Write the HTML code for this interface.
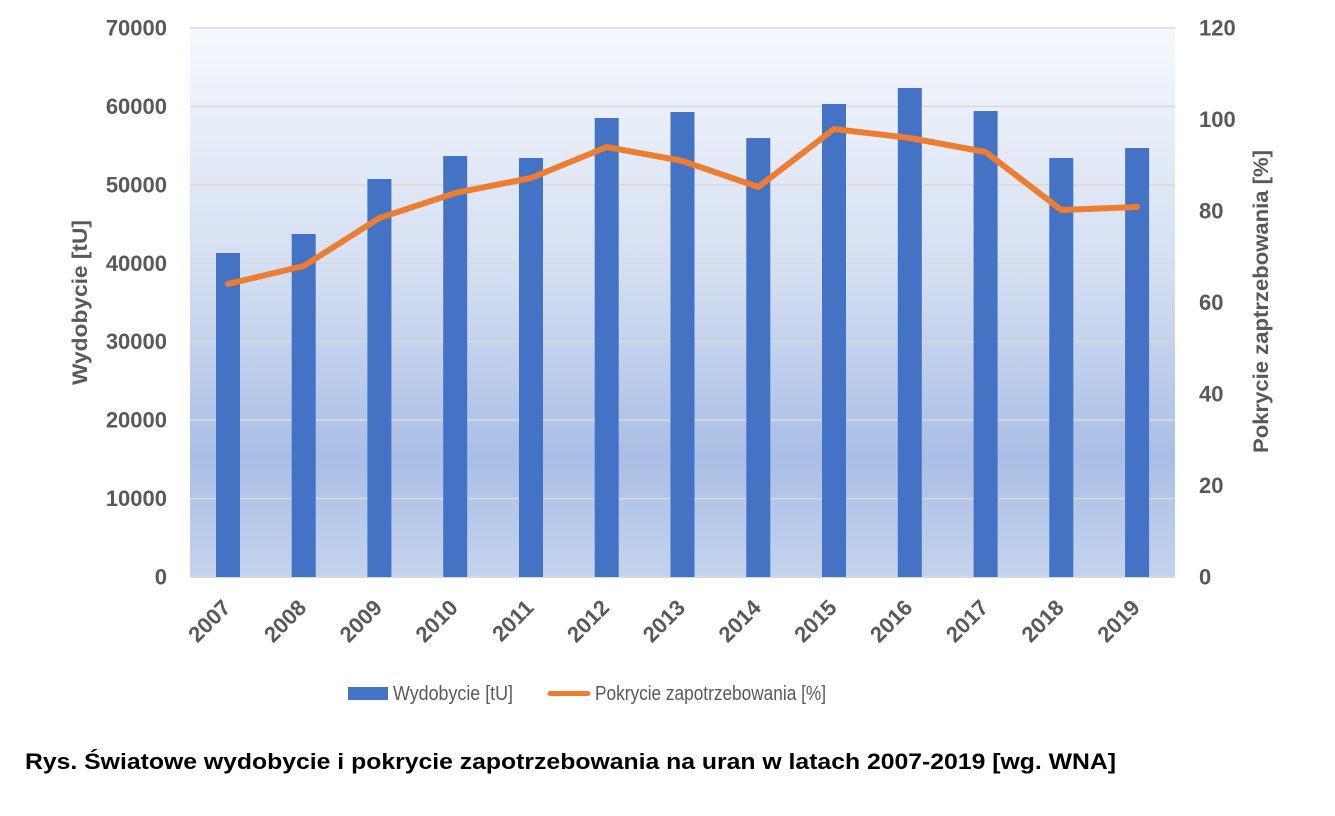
<!DOCTYPE html>
<html><head><meta charset="utf-8"><style>
html,body{margin:0;padding:0;background:#fff;}
svg{display:block;}
</style></head><body>
<svg width="1335" height="816" viewBox="0 0 1335 816" xmlns="http://www.w3.org/2000/svg" font-family="'Liberation Sans', sans-serif">
<defs>
<linearGradient id="bg" x1="0" y1="0" x2="0" y2="1">
<stop offset="0" stop-color="#F5F8FD"/>
<stop offset="0.45" stop-color="#D3DEF1"/>
<stop offset="0.78" stop-color="#AABEE5"/>
<stop offset="1" stop-color="#C4D3ED"/>
</linearGradient>
</defs>
<rect x="190" y="28" width="985" height="549" fill="url(#bg)"/>
<g stroke="#D9D9D9" stroke-width="1.6">
<line x1="190" y1="28" x2="1175" y2="28"/>
<line x1="190" y1="106.4" x2="1175" y2="106.4"/>
<line x1="190" y1="184.9" x2="1175" y2="184.9"/>
<line x1="190" y1="263.3" x2="1175" y2="263.3"/>
<line x1="190" y1="341.7" x2="1175" y2="341.7"/>
<line x1="190" y1="420.1" x2="1175" y2="420.1"/>
<line x1="190" y1="498.6" x2="1175" y2="498.6"/>
<line x1="190" y1="577" x2="1175" y2="577" stroke-width="2"/>
</g>
<g fill="#4472C4">
<rect x="216" y="253" width="24" height="324"/>
<rect x="291.7" y="234" width="24" height="343"/>
<rect x="367.4" y="179" width="24" height="398"/>
<rect x="443.2" y="156" width="24" height="421"/>
<rect x="519" y="158" width="24" height="419"/>
<rect x="594.7" y="118" width="24" height="459"/>
<rect x="670.5" y="112" width="24" height="465"/>
<rect x="746.3" y="138" width="24" height="439"/>
<rect x="822" y="104" width="24" height="473"/>
<rect x="897.8" y="88" width="24" height="489"/>
<rect x="973.6" y="111" width="24" height="466"/>
<rect x="1049.3" y="158" width="24" height="419"/>
<rect x="1125.1" y="148" width="24" height="429"/>
</g>
<polyline fill="none" stroke="#ED7D31" stroke-width="6" stroke-linecap="round" stroke-linejoin="round"
points="227.9,284 303.7,266 379.4,218 455.2,193 531,178 606.7,147 682.5,161 758.3,187 834,129 909.8,138 985.6,152 1061.3,210 1137.1,207"/>
<g fill="#595959" font-weight="bold" font-size="22" text-anchor="end">
<text x="167" y="35.5">70000</text>
<text x="167" y="114">60000</text>
<text x="167" y="192.4">50000</text>
<text x="167" y="270.8">40000</text>
<text x="167" y="349.2">30000</text>
<text x="167" y="427.6">20000</text>
<text x="167" y="506.1">10000</text>
<text x="167" y="584.5">0</text>
</g>
<g fill="#595959" font-weight="bold" font-size="22" text-anchor="start">
<text x="1199" y="35.5">120</text>
<text x="1199" y="127">100</text>
<text x="1199" y="218.5">80</text>
<text x="1199" y="310">60</text>
<text x="1199" y="401.5">40</text>
<text x="1199" y="493">20</text>
<text x="1199" y="584.5">0</text>
</g>
<g fill="#595959" font-weight="bold" font-size="22" text-anchor="end">
<text transform="translate(232,609) rotate(-45)">2007</text>
<text transform="translate(307.7,609) rotate(-45)">2008</text>
<text transform="translate(383.4,609) rotate(-45)">2009</text>
<text transform="translate(459.2,609) rotate(-45)">2010</text>
<text transform="translate(535,609) rotate(-45)">2011</text>
<text transform="translate(610.7,609) rotate(-45)">2012</text>
<text transform="translate(686.5,609) rotate(-45)">2013</text>
<text transform="translate(762.3,609) rotate(-45)">2014</text>
<text transform="translate(838,609) rotate(-45)">2015</text>
<text transform="translate(913.8,609) rotate(-45)">2016</text>
<text transform="translate(989.6,609) rotate(-45)">2017</text>
<text transform="translate(1065.3,609) rotate(-45)">2018</text>
<text transform="translate(1141.1,609) rotate(-45)">2019</text>
</g>
<text transform="translate(87,302.5) rotate(-90)" fill="#595959" font-weight="bold" font-size="21" text-anchor="middle" textLength="165" lengthAdjust="spacingAndGlyphs">Wydobycie [tU]</text>
<text transform="translate(1268,301.5) rotate(-90)" fill="#595959" font-weight="bold" font-size="21" text-anchor="middle" textLength="303" lengthAdjust="spacingAndGlyphs">Pokrycie zaptrzebowania [%]</text>
<rect x="348" y="687" width="40" height="13" fill="#4472C4"/>
<text x="393" y="700" fill="#595959" font-size="20" textLength="120" lengthAdjust="spacingAndGlyphs">Wydobycie [tU]</text>
<line x1="550" y1="693.5" x2="588" y2="693.5" stroke="#ED7D31" stroke-width="5" stroke-linecap="round"/>
<text x="595" y="700" fill="#595959" font-size="20" textLength="231" lengthAdjust="spacingAndGlyphs">Pokrycie zapotrzebowania [%]</text>
<text x="25" y="769" fill="#000" font-weight="bold" font-size="22" textLength="1091" lengthAdjust="spacingAndGlyphs">Rys. Światowe wydobycie i pokrycie zapotrzebowania na uran w latach 2007-2019 [wg. WNA]</text>
</svg>
</body></html>
